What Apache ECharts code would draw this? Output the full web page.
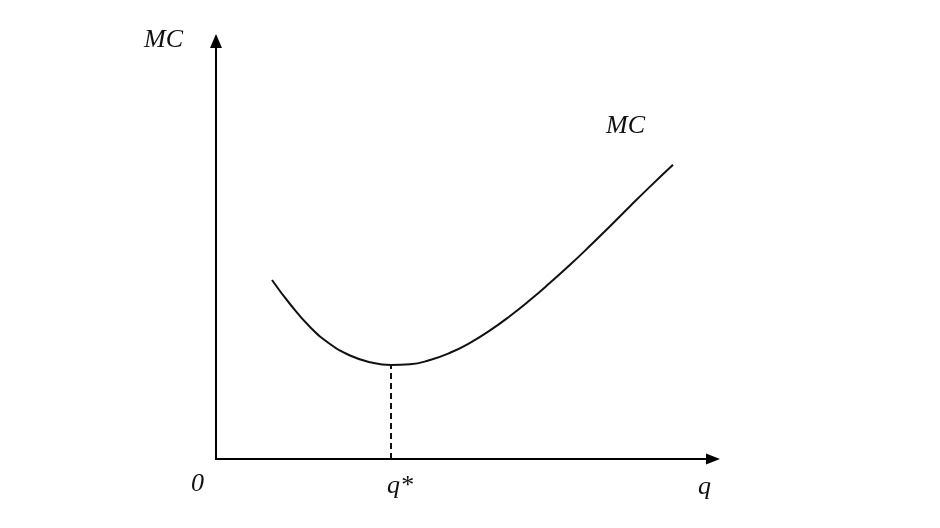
<!DOCTYPE html>
<html>
<head>
<meta charset="utf-8">
<script src="https://cdn.jsdelivr.net/npm/echarts@6/dist/echarts.min.js"></script>
<style>html,body{margin:0;padding:0;background:#fff}#c{width:940px;height:528px}</style>
</head>
<body>
<div id="c"></div>
<script>
// Output q (x) and marginal cost MC (y), in arbitrary units
const qValues  = [11.11, 14.68, 18.65, 22.62, 26.59, 30.56, 34.72, 38.49, 42.46, 46.43, 50.40, 54.37, 58.33, 62.30, 66.27, 70.24, 74.21, 78.17, 82.14, 86.11, 90.67];
const mcValues = [42.12, 36.47, 31.06, 27.06, 24.35, 22.78, 22.12, 22.28, 23.29, 24.99, 27.34, 30.26, 33.65, 37.41, 41.46, 45.69, 50.16, 54.78, 59.48, 64.09, 69.22];
const qStar = 34.72;
const mcMin = 22.12;
const axisNames = { y: 'MC', x: 'q' };
const curveLabel = 'MC';
const tickLabels = ['0', 'q*'];

const font = 'italic 26px "Liberation Serif", "DejaVu Serif", serif';
const chart = echarts.init(document.getElementById('c'), null, { renderer: 'canvas' });
chart.setOption({
  animation: false,
  backgroundColor: '#fff',
  grid: { left: 216, top: 41, right: 227, bottom: 69, containLabel: false, outerBoundsMode: 'none' },
  xAxis: {
    type: 'value', min: 0, max: 98.6,
    axisLine: { show: true, onZero: false, symbol: ['none', 'triangle'], symbolSize: [11, 14], lineStyle: { color: '#000', width: 2 } },
    axisTick: { show: false }, axisLabel: { show: false }, splitLine: { show: false }
  },
  yAxis: {
    type: 'value', min: 0, max: 98.35,
    axisLine: { show: true, onZero: false, symbol: ['none', 'triangle'], symbolSize: [12, 14], lineStyle: { color: '#000', width: 2 } },
    axisTick: { show: false }, axisLabel: { show: false }, splitLine: { show: false }
  },
  series: [
    {
      type: 'line', smooth: 0.5, symbol: 'none',
      data: qValues.map((q, i) => [q, mcValues[i]]),
      lineStyle: { color: '#111', width: 2 }
    },
    {
      type: 'line', symbol: 'none',
      data: [[qStar, 0], [qStar, mcMin]],
      lineStyle: { color: '#111', width: 2, type: [6, 4] }
    }
  ]
});

const px = (x, y) => chart.convertToPixel({ gridIndex: 0 }, [x, y]);
const origin = px(0, 0);
const qs = px(qStar, 0);
chart.setOption({
  graphic: [
    { type: 'text', left: 144, top: 27, style: { text: axisNames.y, font: font, fill: '#111' } },
    { type: 'text', left: 606, top: 113, style: { text: curveLabel, font: font, fill: '#111' } },
    { type: 'text', x: origin[0] - 25, y: origin[1] + 12, style: { text: tickLabels[0], font: font, fill: '#111' } },
    { type: 'text', x: qs[0] - 4, y: qs[1] + 14, style: { text: tickLabels[1], font: font, fill: '#111' } },
    { type: 'text', left: 698, top: 474, style: { text: axisNames.x, font: font, fill: '#111' } }
  ]
});
</script>
</body>
</html>
